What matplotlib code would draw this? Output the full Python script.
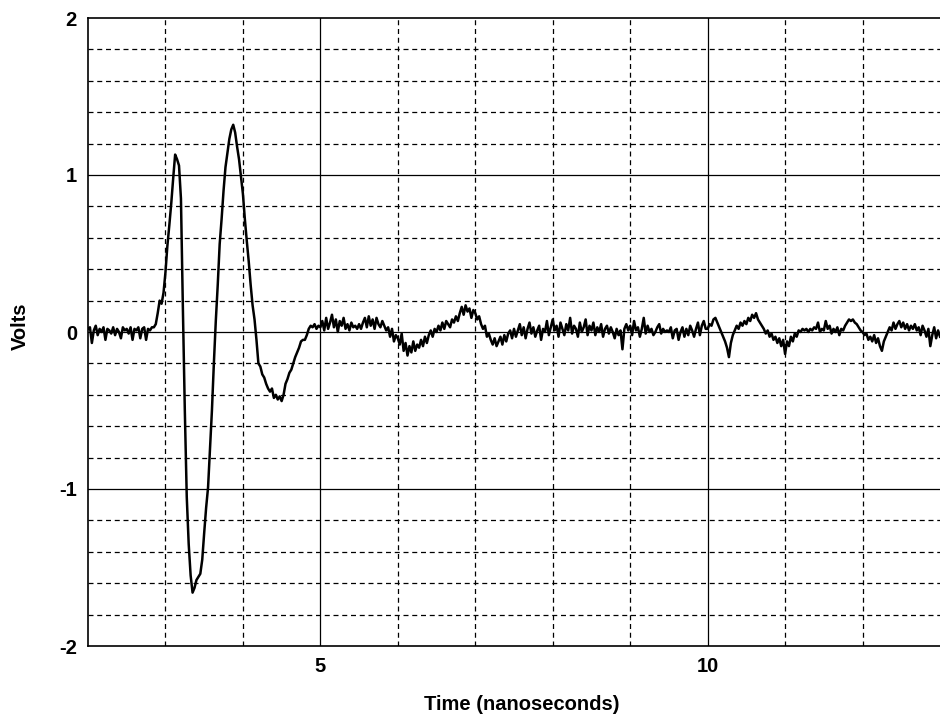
import numpy as np
import matplotlib
matplotlib.use("Agg")
import matplotlib.pyplot as plt

# Sampled waveform: start time and sample interval (ns), voltages (V)
T_START = 2.0
DT = 0.025
volts = [
    # 2.000 - 2.475
    0.02, 0.03, -0.07, 0.01, 0.04, -0.02, 0.02, 0.00, 0.03, -0.05,
    0.02, 0.01, -0.01, 0.03, -0.02, 0.02, 0.00, -0.04, 0.03, 0.01,
    # 2.500 - 2.975
    0.02, -0.01, 0.03, -0.05, 0.02, 0.01, 0.03, -0.04, 0.02, 0.03,
    -0.05, 0.02, 0.01, 0.03, 0.03, 0.05, 0.12, 0.20, 0.18, 0.25,
    # 3.000 - 3.475
    0.38, 0.55, 0.68, 0.82, 0.98, 1.13, 1.10, 1.06, 0.85, 0.15,
    -0.50, -1.05, -1.35, -1.55, -1.66, -1.63, -1.58, -1.56, -1.54, -1.45,
    # 3.500 - 3.975
    -1.28, -1.12, -0.99, -0.75, -0.50, -0.20, 0.07, 0.30, 0.56, 0.72,
    0.90, 1.05, 1.14, 1.23, 1.29, 1.32, 1.27, 1.18, 1.10, 0.99,
    # 4.000 - 4.475
    0.88, 0.72, 0.58, 0.45, 0.30, 0.17, 0.08, -0.05, -0.20, -0.22,
    -0.27, -0.29, -0.33, -0.36, -0.38, -0.36, -0.42, -0.40, -0.43, -0.41,
    # 4.500 - 4.975
    -0.44, -0.40, -0.33, -0.30, -0.26, -0.24, -0.20, -0.16, -0.13, -0.10,
    -0.06, -0.05, -0.05, -0.02, 0.02, 0.04, 0.03, 0.05, 0.02, 0.04,
    # 5.000 - 5.475
    0.03, 0.07, 0.01, 0.09, 0.02, 0.06, 0.11, 0.03, 0.08, 0.00,
    0.07, 0.04, 0.09, 0.02, 0.05, 0.01, 0.06, 0.03, 0.04, 0.02,
    # 5.500 - 5.975
    0.05, 0.02, 0.06, 0.09, 0.03, 0.10, 0.04, 0.08, 0.02, 0.09,
    0.05, 0.03, 0.07, 0.04, 0.01, 0.03, -0.03, 0.02, -0.06, -0.02,
    # 6.000 - 6.475
    -0.04, -0.08, -0.01, -0.12, -0.07, -0.15, -0.09, -0.13, -0.06, -0.12,
    -0.08, -0.10, -0.05, -0.09, -0.03, -0.07, -0.02, 0.01, -0.03, 0.02,
    # 6.500 - 6.975
    0.00, 0.04, 0.01, 0.06, 0.02, 0.07, 0.05, 0.03, 0.08, 0.06,
    0.10, 0.07, 0.12, 0.16, 0.11, 0.17, 0.13, 0.15, 0.09, 0.14,
    # 7.000 - 7.475
    0.12, 0.08, 0.10, 0.05, 0.02, 0.04, -0.03, -0.01, -0.05, -0.08,
    -0.04, -0.09, -0.06, -0.03, -0.08, -0.02, -0.06, -0.01, 0.01, -0.04,
    # 7.500 - 7.975
    0.02, -0.03, 0.01, 0.05, -0.02, 0.03, -0.04, 0.02, 0.06, -0.01,
    0.03, -0.03, 0.01, 0.04, -0.05, 0.02, 0.00, 0.07, -0.02, 0.03,
    # 8.000 - 8.475
    0.08, 0.01, 0.04, -0.03, 0.06, 0.02, -0.02, 0.05, 0.01, 0.09,
    -0.01, 0.04, 0.02, -0.03, 0.06, 0.00, 0.03, 0.08, -0.02, 0.04,
    # 8.500 - 8.975
    0.01, 0.06, -0.02, 0.03, 0.00, 0.05, -0.03, 0.02, 0.04, -0.01,
    0.03, 0.00, -0.04, 0.02, -0.02, 0.01, -0.11, 0.02, 0.05, 0.01,
    # 9.000 - 9.475
    0.04, -0.02, 0.07, 0.01, 0.03, -0.03, 0.02, 0.09, -0.01, 0.04,
    0.00, 0.02, -0.02, 0.00, 0.03, 0.05, -0.01, 0.02, 0.00, 0.01,
    # 9.500 - 9.975
    0.00, 0.03, -0.04, 0.01, 0.02, -0.05, 0.00, 0.03, -0.03, 0.02,
    -0.02, 0.04, 0.01, -0.03, 0.02, 0.06, -0.02, 0.04, 0.07, 0.02,
    # 10.000 - 10.475
    0.02, 0.05, 0.04, 0.08, 0.09, 0.06, 0.03, 0.00, -0.03, -0.06,
    -0.10, -0.16, -0.07, -0.02, 0.01, 0.04, 0.02, 0.06, 0.04, 0.07,
    # 10.500 - 10.975
    0.05, 0.09, 0.07, 0.11, 0.09, 0.12, 0.08, 0.06, 0.04, 0.02,
    -0.01, 0.01, -0.03, -0.01, -0.05, -0.03, -0.07, -0.04, -0.09, -0.05,
    # 11.000 - 11.475
    -0.14, -0.06, -0.09, -0.03, -0.06, -0.01, -0.03, 0.01, 0.00, 0.02,
    0.01, 0.02, 0.00, 0.02, 0.01, 0.03, 0.02, 0.06, 0.00, 0.02,
    # 11.500 - 11.975
    0.01, 0.07, 0.02, 0.04, -0.01, 0.02, 0.00, 0.03, -0.02, 0.02,
    0.01, 0.04, 0.06, 0.08, 0.07, 0.08, 0.06, 0.05, 0.03, 0.01,
    # 12.000 - 12.475
    0.00, -0.02, -0.01, -0.05, -0.03, -0.06, -0.02, -0.07, -0.04, -0.09,
    -0.12, -0.06, -0.03, 0.00, 0.03, 0.01, 0.06, 0.02, 0.05, 0.07,
    # 12.500 - 12.975
    0.03, 0.06, 0.02, 0.05, 0.01, 0.04, 0.02, 0.05, 0.01, 0.03,
    -0.02, 0.04, 0.01, -0.03, 0.02, -0.09, -0.02, 0.03, -0.04, 0.01,
    # 13.000
    -0.03,
]

x_major = [5, 10]
x_minor = [3, 4, 6, 7, 8, 9, 11, 12]
y_major = [-2, -1, 0, 1, 2]
y_minor = [round(v, 1) for v in np.arange(-1.8, 2.0, 0.2) if abs(v - round(v)) > 0.05]

plt.rcParams["font.family"] = ["Liberation Sans", "DejaVu Sans"]
plt.rcParams["axes.unicode_minus"] = False

fig = plt.figure(figsize=(9.4, 7.24), dpi=100)
ax = fig.add_axes([88 / 940, 1 - 646 / 724, 1 - 88 / 940, (646 - 18) / 724])

t = T_START + DT * np.arange(len(volts))

for xv in x_minor:
    ax.axvline(xv, color="black", lw=0.9, ls=(0, (4, 3)), zorder=1)
for yv in y_minor:
    ax.axhline(yv, color="black", lw=0.9, ls=(0, (4, 3)), zorder=1)
for xv in x_major:
    ax.axvline(xv, color="black", lw=0.9, zorder=1)
for yv in y_major[1:-1]:
    ax.axhline(yv, color="black", lw=0.9, zorder=1)

ax.plot(t, volts, color="black", lw=1.8, zorder=3)

ax.set_xlim(2, 13)
ax.set_ylim(-2, 2)
ax.set_xticks(x_major)
ax.set_yticks(y_major)
ax.tick_params(length=0, labelsize=14.5, pad=8)
for lbl in ax.get_xticklabels() + ax.get_yticklabels():
    lbl.set_fontweight("bold")
ax.spines["right"].set_visible(False)
for s in ("left", "bottom", "top"):
    ax.spines[s].set_linewidth(1.2)

fig.text(522 / 940, 1 - 705 / 724, "Time (nanoseconds)", ha="center", va="center",
         fontsize=14.5, fontweight="bold")
fig.text(20 / 940, 1 - 326 / 724, "Volts", ha="center", va="center",
         rotation=90, fontsize=14.5, fontweight="bold")

fig.savefig("out.png", dpi=100)
